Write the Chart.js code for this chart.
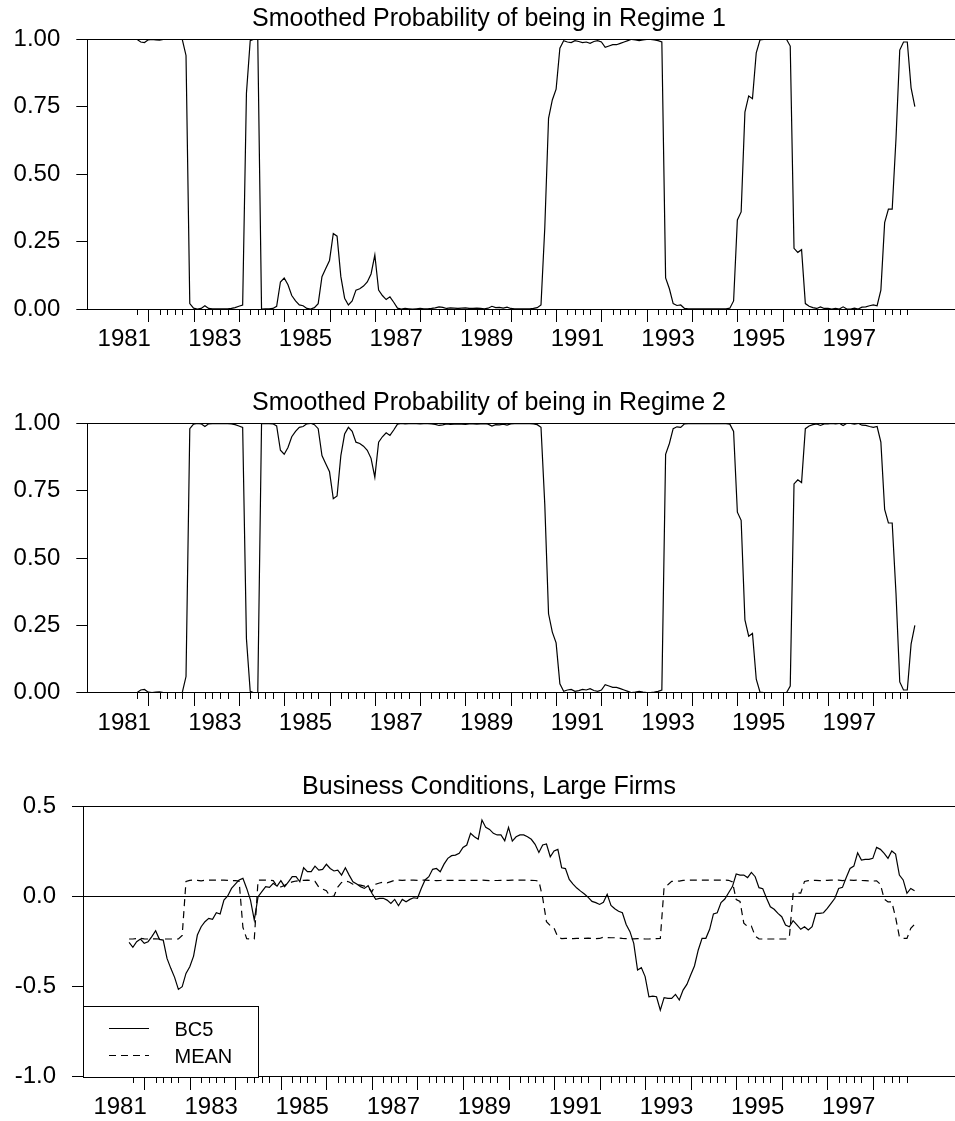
<!DOCTYPE html>
<html>
<head>
<meta charset="utf-8">
<script src="https://cdn.jsdelivr.net/npm/chart.js@4.4.1/dist/chart.umd.min.js"></script>
<style>
  html, body { margin: 0; padding: 0; background: #fff; }
  body { width: 955px; height: 1121px; position: relative; overflow: hidden; }
  canvas { position: absolute; left: 0; }
</style>
</head>
<body>
<!-- canvases are a little wider than the page; the right edge is cropped like the original -->
<canvas id="regime1" width="978" height="370" style="top:0"></canvas>
<canvas id="regime2" width="978" height="370" style="top:370px"></canvas>
<canvas id="business" width="978" height="381" style="top:740px"></canvas>
<script>
// Monthly series: smoothed probabilities run 1981:10 - 1998:12, BC5 and MEAN 1981:09 - 1998:12
const probStart = { year: 1981, month: 10 };
const bcStart = { year: 1981, month: 9 };

const regime1 = [
  1.000, 0.990, 0.988, 0.998, 1.000, 0.998, 0.997, 1.000, 1.000, 1.000,
  1.000, 1.000, 1.000, 0.940, 0.020, 0.003, 0.000, 0.002, 0.012, 0.002,
  0.001, 0.001, 0.001, 0.001, 0.001, 0.002, 0.005, 0.010, 0.015, 0.800,
  0.995, 1.000, 1.000, 0.000, 0.001, 0.001, 0.002, 0.010, 0.100, 0.115,
  0.090, 0.050, 0.030, 0.015, 0.012, 0.002, 0.000, 0.005, 0.020, 0.120,
  0.150, 0.180, 0.280, 0.270, 0.120, 0.040, 0.015, 0.030, 0.070, 0.075,
  0.085, 0.100, 0.130, 0.200, 0.070, 0.050, 0.035, 0.045, 0.025, 0.003,
  0.000, 0.002, 0.001, 0.000, 0.001, 0.002, 0.001, 0.001, 0.002, 0.004,
  0.008, 0.006, 0.002, 0.004, 0.003, 0.002, 0.003, 0.004, 0.002, 0.002,
  0.003, 0.002, 0.001, 0.003, 0.010, 0.005, 0.006, 0.003, 0.007, 0.002,
  0.001, 0.001, 0.001, 0.001, 0.001, 0.002, 0.005, 0.015, 0.300, 0.707,
  0.775, 0.815, 0.967, 0.995, 0.990, 0.988, 0.995, 0.992, 0.988, 0.990,
  0.985, 0.992, 0.995, 0.990, 0.970, 0.975, 0.980, 0.980, 0.985, 0.990,
  0.995, 1.000, 0.998, 0.995, 0.998, 1.000, 1.000, 0.998, 0.995, 0.990,
  0.115, 0.075, 0.020, 0.013, 0.015, 0.002, 0.001, 0.001, 0.001, 0.001,
  0.001, 0.001, 0.001, 0.001, 0.001, 0.001, 0.001, 0.003, 0.030, 0.330,
  0.360, 0.730, 0.790, 0.780, 0.950, 0.998, 1.000, 1.000, 1.000, 1.000,
  1.000, 1.000, 1.000, 0.975, 0.225, 0.210, 0.220, 0.020, 0.010, 0.005,
  0.002, 0.008, 0.002, 0.002, 0.000, 0.002, 0.000, 0.008, 0.000, 0.000,
  0.003, 0.000, 0.007, 0.008, 0.012, 0.015, 0.012, 0.070, 0.320, 0.370,
  0.370, 0.630, 0.960, 0.990, 0.990, 0.820, 0.750
];

const regime2 = [
  0.000, 0.010, 0.012, 0.002, 0.000, 0.002, 0.003, 0.000, 0.000, 0.000,
  0.000, 0.000, 0.000, 0.060, 0.980, 0.997, 1.000, 0.998, 0.988, 0.998,
  0.999, 0.999, 0.999, 0.999, 0.999, 0.998, 0.995, 0.990, 0.985, 0.200,
  0.005, 0.000, 0.000, 1.000, 0.999, 0.999, 0.998, 0.990, 0.900, 0.885,
  0.910, 0.950, 0.970, 0.985, 0.988, 0.998, 1.000, 0.995, 0.980, 0.880,
  0.850, 0.820, 0.720, 0.730, 0.880, 0.960, 0.985, 0.970, 0.930, 0.925,
  0.915, 0.900, 0.870, 0.800, 0.930, 0.950, 0.965, 0.955, 0.975, 0.997,
  1.000, 0.998, 0.999, 1.000, 0.999, 0.998, 0.999, 0.999, 0.998, 0.996,
  0.992, 0.994, 0.998, 0.996, 0.997, 0.998, 0.997, 0.996, 0.998, 0.998,
  0.997, 0.998, 0.999, 0.997, 0.990, 0.995, 0.994, 0.997, 0.993, 0.998,
  0.999, 0.999, 0.999, 0.999, 0.999, 0.998, 0.995, 0.985, 0.700, 0.293,
  0.225, 0.185, 0.033, 0.005, 0.010, 0.012, 0.005, 0.008, 0.012, 0.010,
  0.015, 0.008, 0.005, 0.010, 0.030, 0.025, 0.020, 0.020, 0.015, 0.010,
  0.005, 0.000, 0.002, 0.005, 0.002, 0.000, 0.000, 0.002, 0.005, 0.010,
  0.885, 0.925, 0.980, 0.987, 0.985, 0.998, 0.999, 0.999, 0.999, 0.999,
  0.999, 0.999, 0.999, 0.999, 0.999, 0.999, 0.999, 0.997, 0.970, 0.670,
  0.640, 0.270, 0.210, 0.220, 0.050, 0.002, 0.000, 0.000, 0.000, 0.000,
  0.000, 0.000, 0.000, 0.025, 0.775, 0.790, 0.780, 0.980, 0.990, 0.995,
  0.998, 0.992, 0.998, 0.998, 1.000, 0.998, 1.000, 0.992, 1.000, 1.000,
  0.997, 1.000, 0.993, 0.992, 0.988, 0.985, 0.988, 0.930, 0.680, 0.630,
  0.630, 0.370, 0.040, 0.010, 0.010, 0.180, 0.250
];

const bc5 = [
  -0.254, -0.281, -0.250, -0.235, -0.259, -0.250, -0.222, -0.189, -0.237, -0.241,
  -0.343, -0.398, -0.448, -0.515, -0.500, -0.426, -0.389, -0.330, -0.213, -0.167,
  -0.139, -0.120, -0.126, -0.089, -0.096, -0.019, 0.004, 0.046, 0.070, 0.093,
  0.102, 0.046, -0.019, -0.130, 0.000, 0.028, 0.056, 0.052, 0.074, 0.059,
  0.089, 0.056, 0.083, 0.111, 0.111, 0.083, 0.161, 0.139, 0.139, 0.170,
  0.148, 0.152, 0.180, 0.157, 0.143, 0.148, 0.120, 0.161, 0.120, 0.083,
  0.070, 0.056, 0.046, 0.061, 0.019, -0.015, -0.009, -0.009, -0.019, -0.037,
  -0.015, -0.050, -0.015, -0.028, -0.015, -0.006, -0.009, 0.046, 0.093, 0.111,
  0.152, 0.157, 0.139, 0.181, 0.213, 0.228, 0.231, 0.241, 0.274, 0.287,
  0.352, 0.333, 0.319, 0.426, 0.385, 0.374, 0.352, 0.343, 0.343, 0.311,
  0.385, 0.309, 0.333, 0.343, 0.343, 0.333, 0.319, 0.291, 0.246, 0.287,
  0.293, 0.222, 0.254, 0.263, 0.161, 0.156, 0.096, 0.070, 0.048, 0.031,
  0.015, -0.004, -0.026, -0.033, -0.043, -0.031, 0.013, -0.048, -0.067, -0.081,
  -0.089, -0.154, -0.194, -0.259, -0.407, -0.394, -0.444, -0.556, -0.552, -0.556,
  -0.630, -0.561, -0.565, -0.565, -0.543, -0.574, -0.519, -0.487, -0.435, -0.385,
  -0.296, -0.231, -0.231, -0.181, -0.096, -0.089, -0.033, -0.013, 0.022, 0.056,
  0.126, 0.120, 0.120, 0.106, 0.135, 0.111, 0.050, 0.044, -0.009, -0.056,
  -0.070, -0.093, -0.111, -0.157, -0.167, -0.133, -0.157, -0.181, -0.167, -0.185,
  -0.167, -0.093, -0.093, -0.089, -0.065, -0.037, -0.009, 0.046, 0.052, 0.107,
  0.157, 0.170, 0.244, 0.204, 0.207, 0.207, 0.213, 0.274, 0.263, 0.241,
  0.213, 0.254, 0.237, 0.120, 0.093, 0.019, 0.046, 0.033
];

const mean = [
  -0.235, -0.235, -0.232, -0.231, -0.234, -0.235, -0.234, -0.234, -0.235, -0.235,
  -0.235, -0.235, -0.235, -0.235, -0.215, 0.085, 0.091, 0.092, 0.091, 0.088,
  0.091, 0.092, 0.092, 0.092, 0.092, 0.092, 0.091, 0.090, 0.089, 0.087,
  -0.170, -0.233, -0.235, -0.235, 0.092, 0.092, 0.092, 0.091, 0.089, 0.059,
  0.054, 0.063, 0.076, 0.082, 0.087, 0.088, 0.091, 0.092, 0.090, 0.085,
  0.053, 0.043, 0.033, 0.000, 0.004, 0.053, 0.079, 0.087, 0.082, 0.069,
  0.067, 0.064, 0.059, 0.049, 0.027, 0.069, 0.076, 0.081, 0.077, 0.084,
  0.091, 0.092, 0.091, 0.092, 0.092, 0.092, 0.091, 0.092, 0.092, 0.091,
  0.091, 0.089, 0.090, 0.091, 0.091, 0.091, 0.091, 0.091, 0.091, 0.091,
  0.091, 0.091, 0.091, 0.092, 0.091, 0.089, 0.090, 0.090, 0.091, 0.090,
  0.091, 0.092, 0.092, 0.092, 0.092, 0.092, 0.091, 0.090, 0.087, -0.006,
  -0.139, -0.161, -0.175, -0.224, -0.233, -0.232, -0.231, -0.233, -0.232, -0.231,
  -0.232, -0.230, -0.232, -0.233, -0.232, -0.225, -0.227, -0.228, -0.228, -0.230,
  -0.232, -0.233, -0.235, -0.234, -0.233, -0.234, -0.235, -0.235, -0.234, -0.233,
  -0.232, 0.054, 0.067, 0.085, 0.088, 0.087, 0.091, 0.092, 0.092, 0.092,
  0.092, 0.092, 0.092, 0.092, 0.092, 0.092, 0.092, 0.092, 0.091, 0.082,
  -0.016, -0.026, -0.147, -0.166, -0.163, -0.219, -0.234, -0.235, -0.235, -0.235,
  -0.235, -0.235, -0.235, -0.235, -0.227, 0.018, 0.023, 0.020, 0.085, 0.089,
  0.090, 0.091, 0.089, 0.091, 0.091, 0.092, 0.091, 0.092, 0.089, 0.092,
  0.092, 0.091, 0.092, 0.090, 0.089, 0.088, 0.087, 0.088, 0.069, -0.013,
  -0.029, -0.029, -0.114, -0.222, -0.232, -0.232, -0.176, -0.153
];

const yearLabels = ['1981', '1983', '1985', '1987', '1989', '1991', '1993', '1995', '1997'];
const majorTickYears = [1982, 1983, 1984, 1985, 1986, 1987, 1988, 1989, 1990,
  1991, 1992, 1993, 1994, 1995, 1996, 1997, 1998];
const minorTickMonths = [3, 5, 7, 9];
const probTicks = [0, 0.25, 0.5, 0.75, 1];
const bcTicks = [-1, -0.5, 0, 0.5];

const FONT = '"Liberation Sans", Arial, Helvetica, sans-serif';
Chart.defaults.font.family = FONT;
Chart.defaults.color = '#000';

function toPoints(values, start) {
  return values.map((v, i) => ({ x: start.year + (start.month - 1 + i) / 12, y: v }));
}

// long tick at each year start, short ticks inside the year
const yearTicks = {
  id: 'yearTicks',
  afterDraw(chart) {
    const { ctx, chartArea, scales: { x } } = chart;
    const base = Math.round(chartArea.bottom);
    const first = 1981.75, last = 1998.75;
    ctx.save();
    ctx.strokeStyle = '#000';
    ctx.lineWidth = 1;
    ctx.beginPath();
    majorTickYears.forEach(yr => {
      const px = Math.round(x.getPixelForValue(yr)) + 0.5;
      ctx.moveTo(px, base);
      ctx.lineTo(px, base + 13);
    });
    for (let yr = 1981; yr <= 1998; yr++) {
      minorTickMonths.forEach(m => {
        const v = yr + m / 12;
        if (v < first - 1e-6 || v > last + 1e-6) return;
        const px = Math.round(x.getPixelForValue(v)) + 0.5;
        ctx.moveTo(px, base);
        ctx.lineTo(px, base + 6);
      });
    }
    ctx.stroke();
    ctx.restore();
  }
};

// boxed legend in the lower-left corner of the plot
const boxLegend = {
  id: 'boxLegend',
  afterDatasetsDraw(chart) {
    const { ctx, chartArea } = chart;
    const left = Math.round(chartArea.left), bottom = Math.round(chartArea.bottom);
    const w = 175, h = 71, top = bottom - h;
    ctx.save();
    ctx.fillStyle = '#fff';
    ctx.fillRect(left, top, w, h);
    ctx.strokeStyle = '#000';
    ctx.lineWidth = 1;
    ctx.strokeRect(left + 0.5, top + 0.5, w, h);
    ctx.font = '20px ' + FONT;
    ctx.textBaseline = 'alphabetic';
    chart.data.datasets.forEach((ds, i) => {
      const y = top + 22 + i * 27;
      ctx.setLineDash(ds.borderDash || []);
      ctx.beginPath();
      ctx.moveTo(left + 26, y + 0.5);
      ctx.lineTo(left + 66, y + 0.5);
      ctx.stroke();
      ctx.setLineDash([]);
      ctx.fillStyle = '#000';
      ctx.fillText(ds.label, left + 91.5, y + 8);
    });
    ctx.restore();
  }
};

function panel(id, cfg) {
  return new Chart(document.getElementById(id), {
    type: 'line',
    data: { datasets: cfg.datasets },
    options: {
      responsive: false,
      animation: false,
      devicePixelRatio: 1,
      layout: { padding: 0 },
      elements: { point: { radius: 0 }, line: { tension: 0 } },
      plugins: {
        legend: { display: false },
        tooltip: { enabled: false },
        title: {
          display: true,
          text: cfg.title,
          color: '#000',
          font: { size: 25, weight: 'normal' },
          padding: { top: cfg.titleTop, bottom: cfg.titleBottom }
        }
      },
      scales: {
        x: {
          type: 'linear',
          min: 1980.655,
          max: 2000.31,
          afterBuildTicks: s => { s.ticks = yearLabels.map(l => ({ value: Number(l) + 0.47 })); },
          ticks: {
            autoSkip: false, maxRotation: 0, padding: 16,
            font: { size: 24 },
            callback: (v, i) => yearLabels[i]
          },
          grid: { display: false, drawTicks: false },
          border: { display: true, color: '#000', width: 1 },
          afterFit: s => { s.height = cfg.xHeight; }
        },
        y: {
          min: cfg.yTicks[0],
          max: cfg.yTicks[cfg.yTicks.length - 1],
          afterBuildTicks: s => { s.ticks = cfg.yTicks.map(v => ({ value: v })); },
          ticks: {
            padding: 16,
            font: { size: 24 },
            callback: v => v.toFixed(cfg.decimals)
          },
          grid: {
            color: c => (c.tick && cfg.lines.includes(c.tick.value)) ? '#000' : 'rgba(0,0,0,0)',
            tickColor: '#000',
            tickLength: 11,
            lineWidth: 1
          },
          border: { display: true, color: '#000', width: 1 },
          afterFit: s => { s.width = cfg.yWidth; }
        }
      }
    },
    plugins: [yearTicks].concat(cfg.extra || [])
  });
}

panel('regime1', {
  title: 'Smoothed Probability of being in Regime 1',
  titleTop: 4.6, titleBottom: 4.7, xHeight: 61, yWidth: 87.3,
  yTicks: probTicks, decimals: 2, lines: [1],
  datasets: [{ label: 'P1', data: toPoints(regime1, probStart), borderColor: '#000', borderWidth: 1.2 }]
});

panel('regime2', {
  title: 'Smoothed Probability of being in Regime 2',
  titleTop: 18.6, titleBottom: 4.7, xHeight: 47.3, yWidth: 87.3,
  yTicks: probTicks, decimals: 2, lines: [1],
  datasets: [{ label: 'P2', data: toPoints(regime2, probStart), borderColor: '#000', borderWidth: 1.2 }]
});

panel('business', {
  title: 'Business Conditions, Large Firms',
  titleTop: 32.3, titleBottom: 4.4, xHeight: 44.3, yWidth: 83,
  yTicks: bcTicks, decimals: 1, lines: [0, 0.5],
  datasets: [
    { label: 'BC5', data: toPoints(bc5, bcStart), borderColor: '#000', borderWidth: 1.2 },
    { label: 'MEAN', data: toPoints(mean, bcStart), borderColor: '#000', borderWidth: 1.2, borderDash: [7, 5] }
  ],
  extra: [boxLegend]
});
</script>
</body>
</html>
